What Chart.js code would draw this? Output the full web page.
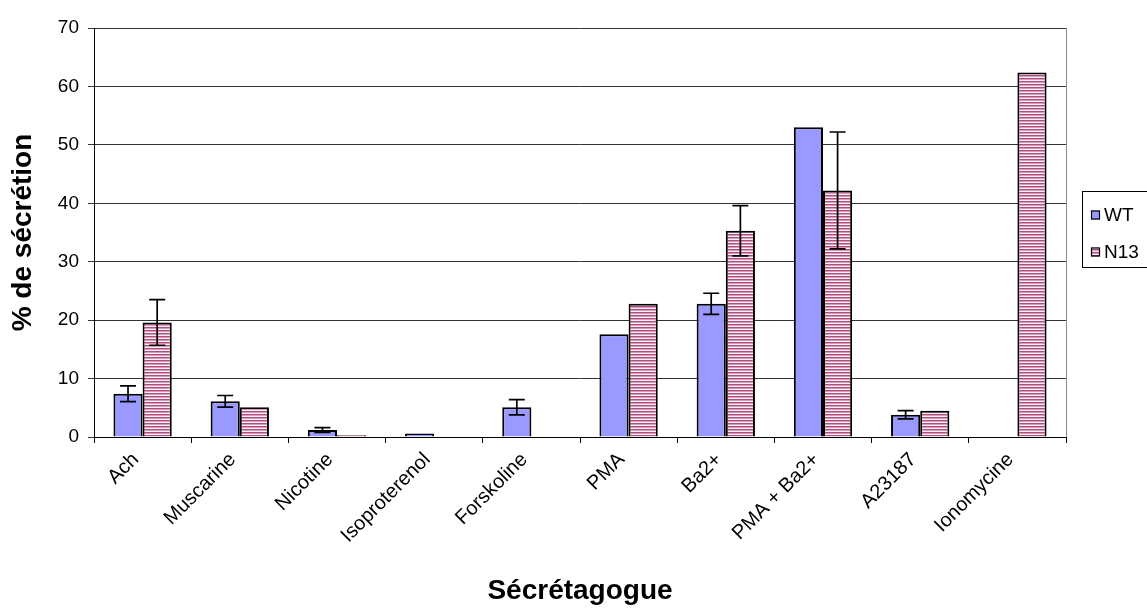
<!DOCTYPE html>
<html>
<head>
<meta charset="utf-8">
<script src="https://cdn.jsdelivr.net/npm/chart.js@4/dist/chart.umd.min.js"></script>
<style>
html,body{margin:0;padding:0;background:#fff;overflow:hidden;}
canvas{display:block;}
</style>
</head>
<body>
<canvas id="c" width="1147" height="608"></canvas>
<script>
const categories = ["Ach", "Muscarine", "Nicotine", "Isoproterenol", "Forskoline", "PMA", "Ba2+", "PMA + Ba2+", "A23187", "Ionomycine"];
const seriesNames = ["WT", "N13"];
const wtValues  = [7.4, 6.1, 1.2, 0.6, 5.1, 17.6, 22.8, 53.0, 3.8, null];
const wtErrors  = [1.35, 1.0, 0.4, 0, 1.3, 0, 1.8, 0, 0.7, 0];
const n13Values = [19.6, 5.1, 0.3, null, null, 22.8, 35.3, 42.2, 4.5, 62.4];
const n13Errors = [3.9, 0, 0, 0, 0, 0, 4.3, 10.0, 0, 0];
const yTicks = [0, 10, 20, 30, 40, 50, 60, 70];

const FONT = "'Liberation Sans', Arial, sans-serif";

function makeStripe() {
  const p = document.createElement('canvas');
  p.width = 4; p.height = 3;
  const g = p.getContext('2d');
  g.fillStyle = '#ad5080'; g.fillRect(0, 0, 4, 1);
  g.fillStyle = '#d89cb8'; g.fillRect(0, 1, 4, 1);
  g.fillStyle = '#fbeef4'; g.fillRect(0, 2, 4, 1);
  return document.getElementById('c').getContext('2d').createPattern(p, 'repeat');
}
const stripe = makeStripe();
const errorSets = [wtErrors, n13Errors];

const errorBars = {
  id: 'errorBars',
  afterDatasetsDraw(chart) {
    const ctx = chart.ctx, ys = chart.scales.y;
    ctx.save();
    ctx.strokeStyle = '#000';
    ctx.lineWidth = 1.7;
    chart.data.datasets.forEach((ds, di) => {
      const meta = chart.getDatasetMeta(di);
      meta.data.forEach((el, i) => {
        const v = ds.data[i], e = errorSets[di][i];
        if (v == null || !e) return;
        const x = el.x;
        const yt = ys.getPixelForValue(v + e), yb = ys.getPixelForValue(v - e);
        ctx.beginPath();
        ctx.moveTo(x, yt); ctx.lineTo(x, yb);
        ctx.moveTo(x - 8, yt); ctx.lineTo(x + 8, yt);
        ctx.moveTo(x - 8, yb); ctx.lineTo(x + 8, yb);
        ctx.stroke();
      });
    });
    ctx.restore();
  }
};

const frameAndLegend = {
  id: 'frameAndLegend',
  afterDraw(chart) {
    const ctx = chart.ctx, a = chart.chartArea;
    ctx.save();
    ctx.strokeStyle = '#8a8a8a';
    ctx.lineWidth = 1;
    ctx.beginPath();
    ctx.moveTo(Math.round(a.right) + 0.5, a.top);
    ctx.lineTo(Math.round(a.right) + 0.5, a.bottom);
    ctx.stroke();
    // legend box
    const bx = 1082.5, by = 191.5, bw = 100, bh = 76;
    ctx.strokeStyle = '#000';
    ctx.strokeRect(bx, by, bw, bh);
    const items = [
      {y: 215, fill: chart.data.datasets[0].backgroundColor},
      {y: 252, fill: chart.data.datasets[1].backgroundColor}
    ];
    ctx.font = '19px ' + FONT;
    ctx.textBaseline = 'middle';
    items.forEach((it, i) => {
      ctx.fillStyle = it.fill;
      ctx.fillRect(1091, it.y - 4.5, 9, 9);
      ctx.strokeStyle = '#000';
      ctx.lineWidth = 1.2;
      ctx.strokeRect(1091.5, it.y - 4, 8, 8);
      ctx.fillStyle = '#000';
      ctx.fillText(chart.data.datasets[i].label, 1104, it.y + 1);
    });
    ctx.restore();
  }
};

new Chart(document.getElementById('c'), {
  type: 'bar',
  data: {
    labels: categories,
    datasets: [
      {label: seriesNames[0], data: wtValues, backgroundColor: '#9999ff', borderColor: '#000', borderWidth: 2,
       categoryPercentage: 0.6, barPercentage: 1.0},
      {label: seriesNames[1], data: n13Values, backgroundColor: stripe, borderColor: '#000', borderWidth: 2,
       categoryPercentage: 0.6, barPercentage: 1.0}
    ]
  },
  options: {
    responsive: false,
    animation: false,
    layout: {padding: {top: 28, right: 81, left: 0, bottom: 0}},
    plugins: {legend: {display: false}, tooltip: {enabled: false}},
    scales: {
      x: {
        grid: {display: true, drawOnChartArea: false, drawTicks: true, tickLength: 6, color: '#000', offset: true},
        border: {display: true, color: '#000', width: 1},
        ticks: {color: '#000', font: {family: FONT, size: 20}, minRotation: 45, maxRotation: 45, padding: 5, labelOffset: -7, autoSkip: false},
        title: {display: true, text: 'Sécrétagogue', color: '#000', font: {family: FONT, size: 28, weight: 'bold'}, padding: {top: 0, bottom: 0}},
        afterFit(s) { s.height = 171; }
      },
      y: {
        min: 0, max: 70,
        afterBuildTicks(s) { s.ticks = yTicks.map(v => ({value: v})); },
        grid: {color: '#333', lineWidth: 1, drawTicks: true, tickLength: 6},
        border: {display: true, color: '#000', width: 1},
        ticks: {color: '#000', font: {family: FONT, size: 19}, padding: 9},
        title: {display: true, text: '% de sécrétion', color: '#000', font: {family: FONT, size: 28, weight: 'bold'}, padding: {top: 6, bottom: 0}},
        afterFit(s) { s.width = 94; }
      }
    }
  },
  plugins: [errorBars, frameAndLegend]
});
</script>
</body>
</html>
